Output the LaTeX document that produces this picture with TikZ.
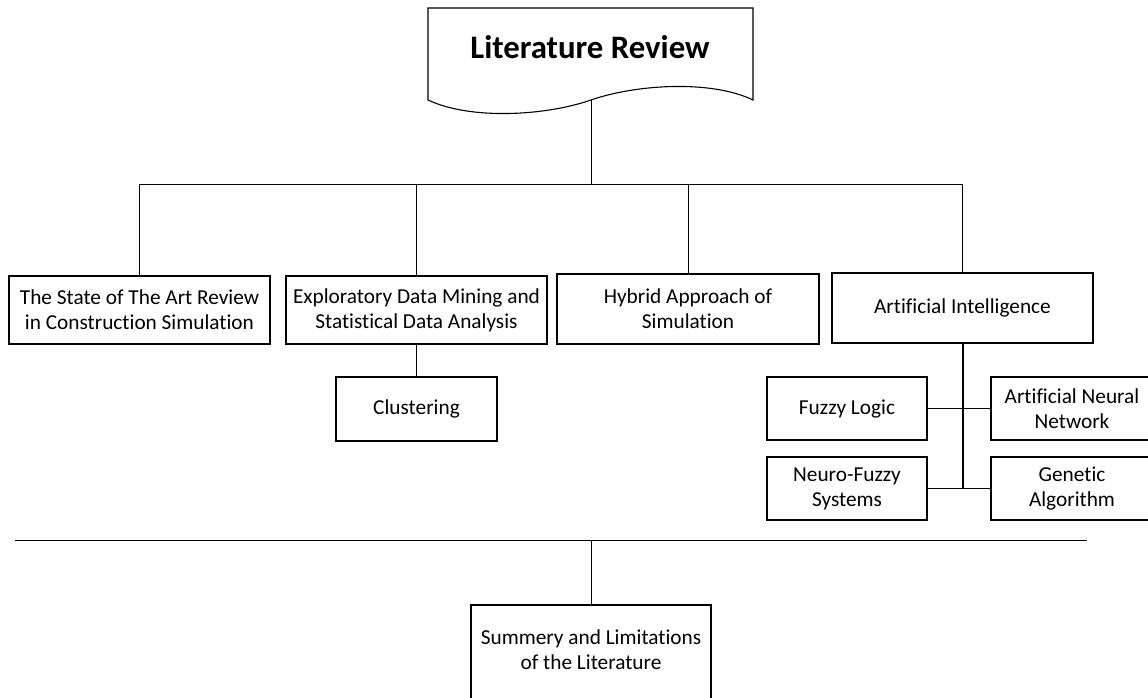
\documentclass[tikz,border=0pt]{standalone}
\usepackage{fontspec}
\setmainfont{Carlito}[Ligatures=NoCommon]
\begin{document}
\begin{tikzpicture}[x=1pt,y=-1pt,
  box/.style={draw=black, line width=1.1pt, fill=white, align=center, inner sep=0pt,
    font=\fontsize{21.3}{25}\selectfont},
  link/.style={draw=black, line width=1pt},
  trunk/.style={draw=black, line width=2pt}]
\useasboundingbox (0,0) rectangle (1148,698);
\fill[white] (0,0) rectangle (1148,698);
\clip (0,0) rectangle (1148,698);

% title: document shape with a wavy lower edge
\draw[line width=1.1pt, line join=miter] (428,8) -- (753,8) -- (753,100)
  .. controls (712,80) and (637,84) .. (591,100)
  .. controls (545,116) and (470,120) .. (428,100) -- cycle;
\node[font=\bfseries\fontsize{32.8}{40}\selectfont, anchor=base, inner sep=0pt] (title) at (590,59) {Literature Review};
\coordinate (tb) at (591,100);
\coordinate (bus) at (591,184);

% main branches
\node[box, minimum width=261, minimum height=68] (n1) at (139.5,310)
  {The State of The Art Review\\in Construction Simulation};
\node[box, minimum width=261, minimum height=68] (n2) at (416.5,310)
  {Exploratory Data Mining and\\Statistical Data Analysis};
\node[box, minimum width=262, minimum height=70] (n3) at (688,309)
  {Hybrid Approach of\\Simulation};
\node[box, minimum width=261, minimum height=70] (n4) at (962.5,308)
  {Artificial Intelligence};

% sub-topics
\node[box, minimum width=161, minimum height=64] (clus) at (416.5,409) {Clustering};
\node[box, minimum width=160, minimum height=63] (fuzzy) at (847,408.5) {Fuzzy Logic};
\node[box, minimum width=162, minimum height=63] (ann) at (1072,408.5) {Artificial Neural\\Network};
\node[box, minimum width=160, minimum height=63] (neuro) at (847,488.5) {Neuro-Fuzzy\\Systems};
\node[box, minimum width=162, minimum height=63] (gen) at (1072,488.5) {Genetic\\Algorithm};

% summary
\node[box, minimum width=240, minimum height=98, text depth=8pt] (summ) at (591,654)
  {Summery and Limitations\\of the Literature};
\coordinate (sl) at (15,540);
\coordinate (sr) at (1087,540);

% connectors
\draw[link] (tb) -- (bus);
\draw[link] (n1.north) -- (n1.north |- bus) -- (n4.north |- bus) -- (n4.north);
\draw[link] (n2.north) -- (n2.north |- bus);
\draw[link] (n3.north) -- (n3.north |- bus);
\draw[link] (n2.south) -- (clus.north);
\draw[trunk] (n4.south) -- (n4.south |- neuro.east);
\draw[link] (fuzzy.east) -- (ann.west);
\draw[link] (neuro.east) -- (gen.west);
\draw[link] (sl) -- (sr);
\draw[link] (summ.north) -- (summ.north |- sl);
\end{tikzpicture}
\end{document}
